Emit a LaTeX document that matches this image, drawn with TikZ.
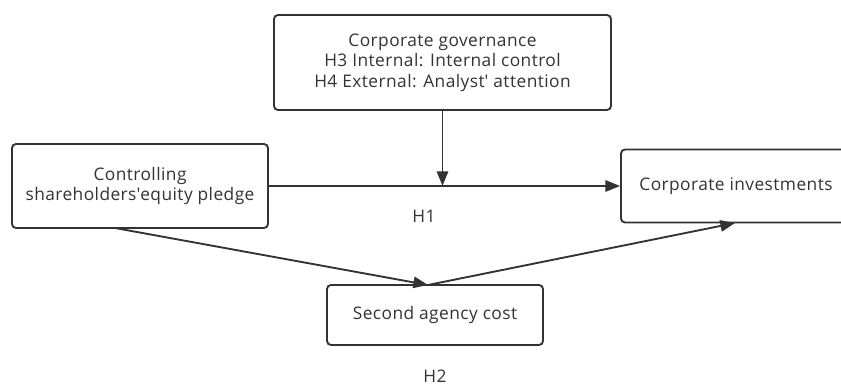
\documentclass[tikz,border=0pt]{standalone}
\usepackage{fontspec}
\setmainfont{Open Sans}[LetterSpace=2.5]
\usetikzlibrary{arrows.meta}
\definecolor{ink}{HTML}{333333}
\begin{document}
\begin{tikzpicture}[x=0.75pt, y=-0.75pt, >={Triangle[length=11pt,width=8.5pt]},
    caja/.style={draw=ink, line width=1.4pt, rounded corners=3pt, align=center,
        text=ink, font=\fontsize{13}{15.5}\selectfont, inner sep=0pt},
    flecha/.style={->, draw=ink, line width=1.4pt},
    etiq/.style={text=ink, font=\fontsize{13}{15}\selectfont}]
    \useasboundingbox (0,0) rectangle (841,385);

    % Cajas de las variables
    \node[caja, minimum width=337*0.75pt, minimum height=95*0.75pt] (gob) at (442.5,62.5)
        {Corporate governance\\H3 Internal: Internal control\\H4 External: Analyst\textquotesingle{} attention};
    \node[caja, minimum width=256*0.75pt, minimum height=84*0.75pt] (prenda) at (140,186)
        {Controlling\\shareholders\textquotesingle equity pledge};
    \node[caja, minimum width=230*0.75pt, minimum height=73*0.75pt] (inv) at (736,186)
        {Corporate investments};
    \node[caja, minimum width=216*0.75pt, minimum height=60*0.75pt] (agencia) at (435,315)
        {Second agency cost};

    % Puntos de apoyo de las flechas
    \coordinate (cruce) at (gob.south |- prenda.east);
    \coordinate (salida) at (115,228);
    \coordinate (media) at (428,285);
    \coordinate (llegada) at (735,223);

    % Efecto directo y moderador
    \draw[flecha] (prenda.east) -- (inv.west);
    \draw[flecha] (gob.south) -- (cruce);

    % Efecto mediador
    \draw[flecha] (salida) -- (media);
    \draw[flecha] (media) -- (llegada);

    % Hipotesis
    \node[etiq] (h1) at (424,216) {H1};
    \node[etiq] (h2) at (435,376) {H2};
\end{tikzpicture}
\end{document}
